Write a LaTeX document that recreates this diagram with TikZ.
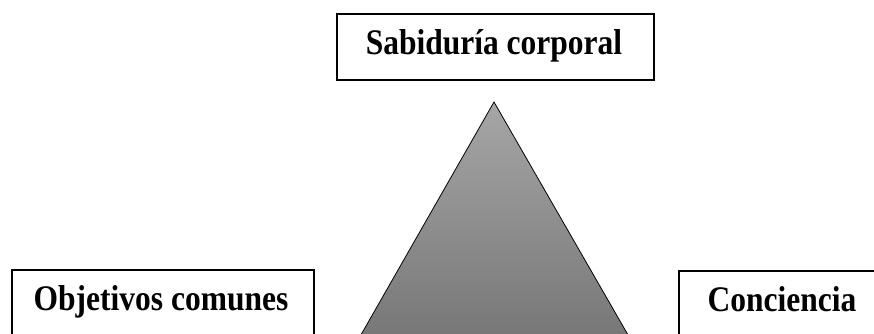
\documentclass[tikz,border=0pt]{standalone}
\usepackage{fontspec}
\setmainfont{Liberation Serif}[FakeStretch=0.875]
\begin{document}
\begin{tikzpicture}[x=1pt,y=1pt,
  box/.style={draw=black, line width=2pt, fill=white, inner sep=0pt, anchor=north west},
  lbl/.style={font=\fontsize{36}{40}\selectfont\bfseries, inner sep=0pt, anchor=base},
  tri/.style={draw=black, line width=0.8pt, top color={rgb,255:red,166;green,166;blue,166}, bottom color={rgb,255:red,116;green,116;blue,116}}]
\useasboundingbox (0,0) rectangle (874,333);
\clip (0,0) rectangle (874,333);
% triangle
\coordinate (apex) at (494,231);
\coordinate (bl) at (350.6,-20);
\coordinate (br) at (638.4,-20);
\path[tri] (apex) -- (br) -- (bl) -- cycle;
% boxes
\node[box, minimum width=317pt, minimum height=66pt] (topbox) at (336,320) {};
\node[box, minimum width=302pt, minimum height=120pt] (leftbox) at (11,64) {};
\node[box, minimum width=260pt, minimum height=120pt] (rightbox) at (678,63) {};
% labels
\node[lbl] (toplbl) at (494,279) {Sabiduría corporal};
\node[lbl] (leftlbl) at (161,23) {Objetivos comunes};
\node[lbl] (rightlbl) at (782,22) {Conciencia};
\end{tikzpicture}
\end{document}
